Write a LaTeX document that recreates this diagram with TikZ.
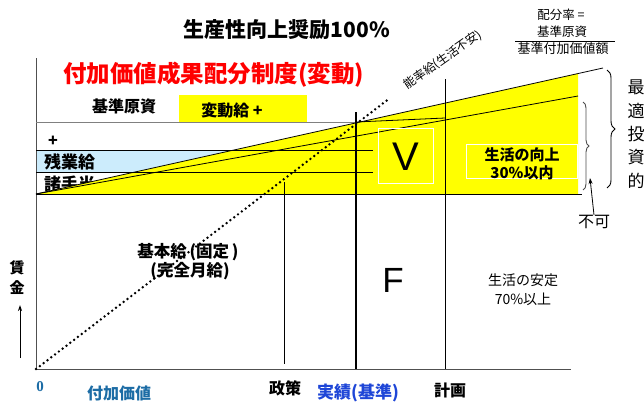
\documentclass[tikz,border=0pt]{standalone}
\usepackage{fontspec}
\setmainfont{Noto Sans CJK JP}
\newfontfamily\latinsans{Liberation Sans}
\newfontfamily\latinserif{Liberation Serif}
\usetikzlibrary{decorations.pathreplacing,arrows.meta}
\definecolor{myyellow}{RGB}{255,255,0}
\definecolor{lightblue}{RGB}{204,236,252}
\definecolor{tealblue}{RGB}{28,108,165}
\definecolor{brightblue}{RGB}{30,70,215}
\definecolor{axisgray}{RGB}{80,80,80}
\begin{document}
\begin{tikzpicture}[x=1pt,y=-1pt,
  bl/.style={inner sep=0pt, font=\bfseries\fontsize{#1}{#1}\selectfont},
  rg/.style={inner sep=0pt, font=\fontsize{#1}{#1}\selectfont},
  whitebox/.style={draw=white, line width=0.8pt},
  dotline/.style={line width=2.7pt, line cap=round, dash pattern=on 0pt off 4.8pt},
  thin/.style={line width=0.8pt},
  bracestyle/.style={decorate, line width=0.9pt}
]
\useasboundingbox (0,0) rectangle (644,405);

% blue band and left labels (partly covered by yellow)
\fill[lightblue] (36,150) rectangle (320,172);
\node[bl=16] (plus) at (53,141) {+};
\node[bl=17, anchor=west] (zangyo) at (44,162) {残業給};
\node[bl=17, anchor=west] (shote) at (44,184) {諸手当};

% yellow regions
\fill[myyellow] (36,194) -- (578,73.6) -- (578,194) -- cycle;
\fill[myyellow] (179,95) rectangle (307,122);

% lines
\draw[axisgray, thin] (36,58) -- (36,369) -- (571,369);
\draw[gray, thin] (36,122) -- (356,122);
\draw[thin] (36,150) -- (373,150);
\draw[thin] (36,172) -- (373,172);
\draw[thin] (36,194) -- (582,194);
\draw[thin] (36,194) -- (603,68);
\draw[thin] (36,194) -- (578,96);
\draw[thin] (356,122) -- (445,118);
\draw[line width=2.6pt] (356,112) -- (356,369);
\draw[thin] (445,79) -- (445,369);
\draw[thin] (284,182) -- (284,364);

% white boxes
\draw[whitebox] (378,128) rectangle (433,183);
\draw[whitebox] (466,144) rectangle (577,178);

% dotted line
\draw[dotline] (36,369) -- (390,98);

% titles
\node[bl=21, anchor=east] (title) at (390,30) {生産性向上奨励100\%};
\node[bl=23.5, anchor=west, text=red] (redtitle) at (63,75) {付加価値成果配分制度(変動)};
\node[bl=16] (kijun) at (124,106) {基準原資};
\node[bl=16] (hendo) at (232,110) {変動給 +};

% rotated label
\node[rg=12, rotate=35] (noritsu) at (443,60) {能率給(生活不安)};

% fraction
\node[rg=12.5] (fr1) at (561,15) {配分率 =};
\node[rg=12.5] (fr2) at (562,32) {基準原資};
\draw[thin] (515,41) -- (615,41);
\node[rg=13] (fr3) at (563,49) {基準付加価値額};

% V and F
\node[inner sep=0pt, font=\latinsans\fontsize{40}{40}\selectfont] (V) at (406,157) {V};
\node[inner sep=0pt, font=\latinsans\fontsize{35}{35}\selectfont] (F) at (393,280) {F};

% life labels
\node[bl=15] (kojo1) at (522,155) {生活の向上};
\node[bl=15] (kojo2) at (522,173) {30\%以内};
\node[rg=14] (antei1) at (523,280) {生活の安定};
\node[rg=14] (antei2) at (523,299) {70\%以上};

% base pay
\node[bl=16.5] (kihon1) at (188,252) {基本給\,(固定\,)};
\node[bl=16.5] (kihon2) at (190,271) {(完全月給)};

% braces
\draw[bracestyle, gray!60!black, decoration={brace, amplitude=6pt}] (583,102) -- (583,190);
\draw[bracestyle, decoration={brace, amplitude=8pt}] (607,70) -- (607,188);

% vertical text
\foreach \c [count=\i from 0] in {最,適,投,資,的}{
  \node[rg=17] (v\i) at (636,{87+23.5*\i}) {\c};
}

% 不可 with arrow
\node[rg=16] (fuka) at (594,222) {不可};
\coordinate (fukatip) at (590,178);
\draw[thin, -{Stealth[length=6pt,width=4pt]}] (fuka.north) -- (fukatip);

% y axis label and arrow
\node[bl=15] (chin) at (17,268) {賃};
\node[bl=15] (kin) at (17,288) {金};
\coordinate (ya0) at (20,358);
\coordinate (ya1) at (20,305);
\draw[thin, -{Stealth[length=6pt,width=4pt]}] (ya0) -- (ya1);

% bottom labels
\node[inner sep=0pt, text=tealblue, font=\latinserif\bfseries\fontsize{15}{15}\selectfont] (zero) at (40,387) {0};
\node[bl=16, text=tealblue] (fuka2) at (119,393) {付加価値};
\node[bl=16] (seisaku) at (285,388) {政策};
\node[bl=17, text=brightblue] (jisseki) at (358,393) {実績(基準)};
\node[bl=16] (keikaku) at (450,390) {計画};

\end{tikzpicture}
\end{document}
